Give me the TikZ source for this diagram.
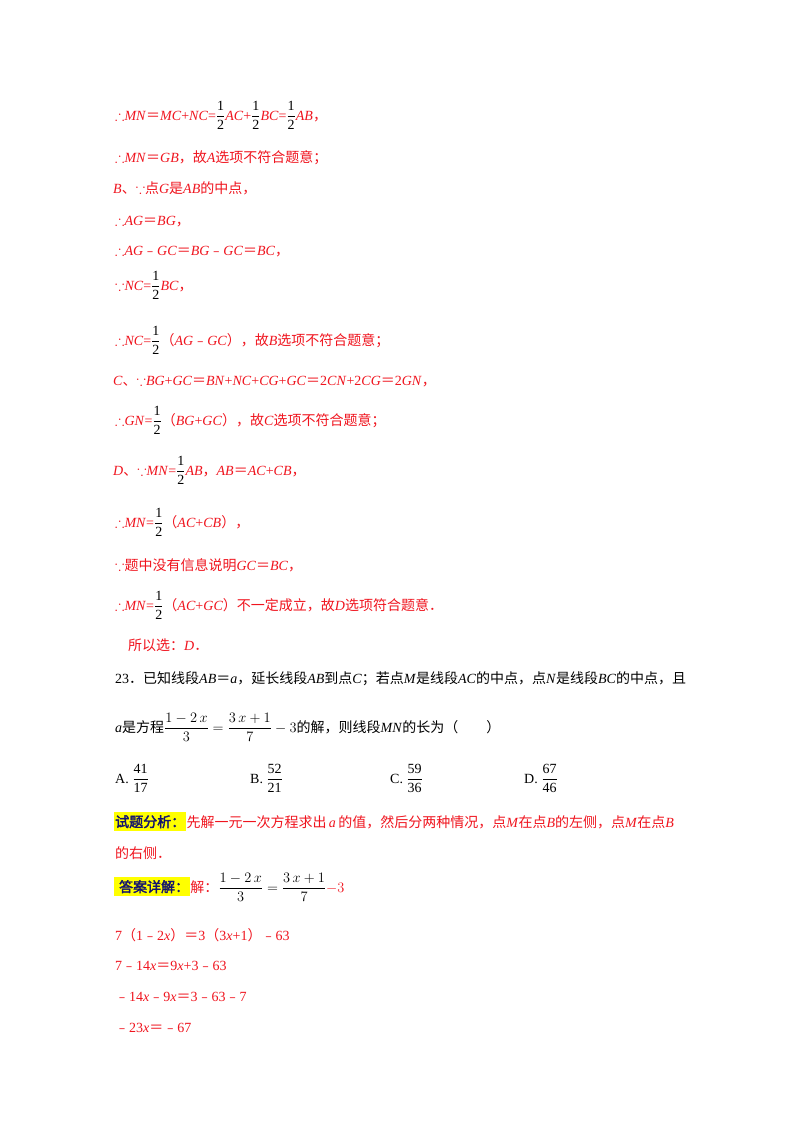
\documentclass[tikz,border=0pt]{standalone}
\usepackage{fontspec}
\usepackage{amsmath,amssymb}
\setmainfont{Liberation Serif}
\newfontfamily\cjk{Noto Sans CJK SC}
\newfontfamily\cjkb[FakeBold=2.5]{Noto Sans CJK SC}
\newcommand{\zh}[1]{{\cjk #1}}
\newcommand{\I}[1]{\textit{#1}}
\newcommand{\fr}[2]{\textcolor{black}{$\dfrac{\mathrm{#1}}{\mathrm{#2}}$}}
\newcommand{\tf}{$\therefore$}
\newcommand{\bc}{$\because$}
\definecolor{rd}{RGB}{240,20,30}
\definecolor{hl}{RGB}{255,255,0}
\definecolor{db}{RGB}{20,20,110}
\begin{document}
\begin{tikzpicture}[x=1pt,y=-1pt,
  t/.style={anchor=base west,inner sep=0pt,text=rd,font=\fontsize{14}{16}\selectfont},
  k/.style={t,text=black},
  lab/.style={anchor=base west,fill=hl,text=db,inner xsep=1pt,inner ysep=3pt,font=\fontsize{14}{16}\selectfont\cjkb}]
\useasboundingbox[fill=white] (0,0) rectangle (800,1132);
\node[t] (l1) at (115,120) {\tf\I{MN}\zh{＝}\I{MC}+\I{NC}=\fr12\I{AC}+\fr12\I{BC}=\fr12\I{AB}\zh{，}};
\node[t] (l2) at (115,162) {\tf\I{MN}\zh{＝}\I{GB}\zh{，故}\I{A}\zh{选项不符合题意；}};
\node[t] (l3) at (113,193) {\I{B}\zh{、}\bc\zh{点}\I{G}\zh{是}\I{AB}\zh{的中点，}};
\node[t] (l4) at (115,225) {\tf\I{AG}\zh{＝}\I{BG}\zh{，}};
\node[t] (l5) at (115,255) {\tf\I{AG}\zh{﹣}\I{GC}\zh{＝}\I{BG}\zh{﹣}\I{GC}\zh{＝}\I{BC}\zh{，}};
\node[t] (l6) at (115,290) {\bc\I{NC}=\fr12\I{BC}\zh{，}};
\node[t] (l7) at (115,345) {\tf\I{NC}=\fr12\zh{（}\I{AG}\zh{﹣}\I{GC}\zh{），故}\I{B}\zh{选项不符合题意；}};
\node[t] (l8) at (113,385) {\I{C}\zh{、}\bc\I{BG}+\I{GC}\zh{＝}\I{BN}+\I{NC}+\I{CG}+\I{GC}\zh{＝}2\I{CN}+2\I{CG}\zh{＝}2\I{GN}\zh{，}};
\node[t] (l9) at (115,425) {\tf\I{GN}=\fr12\zh{（}\I{BG}+\I{GC}\zh{），故}\I{C}\zh{选项不符合题意；}};
\node[t] (l10) at (113,475) {\I{D}\zh{、}\bc\I{MN}=\fr12\I{AB}\zh{，}\I{AB}\zh{＝}\I{AC}+\I{CB}\zh{，}};
\node[t] (l11) at (115,527) {\tf\I{MN}=\fr12\zh{（}\I{AC}+\I{CB}\zh{），}};
\node[t] (l12) at (115,570) {\bc\zh{题中没有信息说明}\I{GC}\zh{＝}\I{BC}\zh{，}};
\node[t] (l13) at (115,610) {\tf\I{MN}=\fr12\zh{（}\I{AC}+\I{GC}\zh{）不一定成立，故}\I{D}\zh{选项符合题意．}};
\node[t] (l14) at (128,650) {\zh{所以选：}\I{D}\zh{．}};
\node[k] (q1) at (115,683) {23\zh{．已知线段}\I{AB}\zh{＝}\I{a}\zh{，延长线段}\I{AB}\zh{到点}\I{C}\zh{；若点}\I{M}\zh{是线段}\I{AC}\zh{的中点，点}\I{N}\zh{是线段}\I{BC}\zh{的中点，且}};
\node[k] (q2) at (115,732) {\I{a}\zh{是方程}$\dfrac{1-2\,x}{3}=\dfrac{3\,x+1}{7}-3$\zh{的解，则线段}\I{MN}\zh{的长为（\quad\quad）}};
\node[k] (ca) at (115,783) {A.\ \fr{41}{17}};
\node[k] (cb) at (250,783) {B.\ \fr{52}{21}};
\node[k] (cc) at (390,783) {C.\ \fr{59}{36}};
\node[k] (cd) at (524,783) {D.\ \fr{67}{46}};
\node[lab] (la1) at (114,827) {试题分析：};
\node[t,anchor=base west] (a1) at (la1.base east) {\zh{先解一元一次方程求出}\,\I{a}\,\zh{的值，然后分两种情况，点}\I{M}\zh{在点}\I{B}\zh{的左侧，点}\I{M}\zh{在点}\I{B}};
\node[t] (a2) at (115,858) {\zh{的右侧．}};
\node[lab] (la2) at (114,892) {\;答案详解：};
\node[t,anchor=base west] (a3) at (la2.base east) {\zh{解：}\textcolor{black}{$\dfrac{1-2\,x}{3}=\dfrac{3\,x+1}{7}$}$-3$};
\node[t] (s1) at (115,940) {7\zh{（}1\zh{﹣}2\I{x}\zh{）＝}3\zh{（}3\I{x}+1\zh{）﹣}63};
\node[t] (s2) at (115,970) {7\zh{﹣}14\I{x}\zh{＝}9\I{x}+3\zh{﹣}63};
\node[t] (s3) at (115,1001) {\zh{﹣}14\I{x}\zh{﹣}9\I{x}\zh{＝}3\zh{﹣}63\zh{﹣}7};
\node[t] (s4) at (115,1032) {\zh{﹣}23\I{x}\zh{＝﹣}67};
\end{tikzpicture}
\end{document}
